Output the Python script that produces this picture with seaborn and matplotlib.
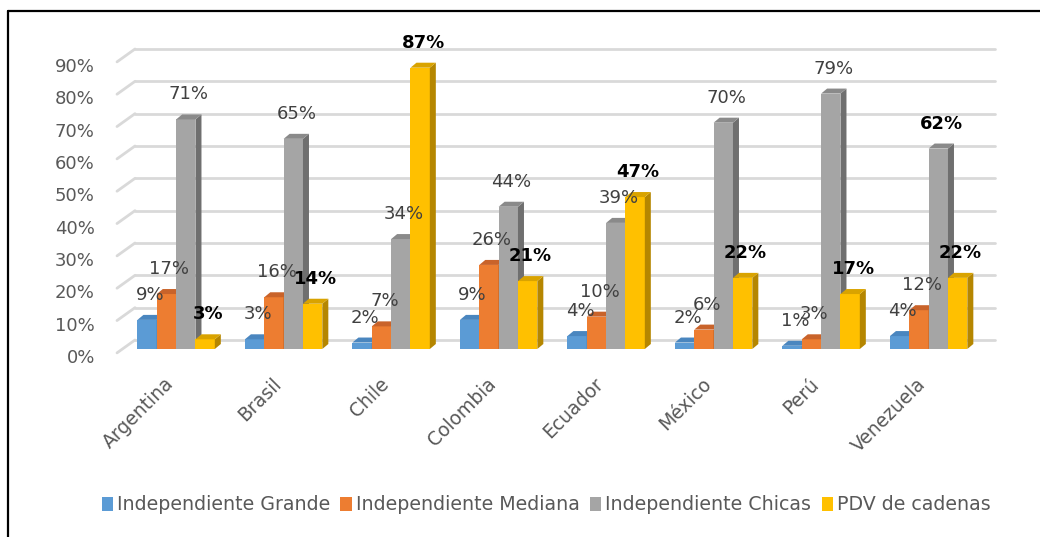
import numpy as np
import pandas as pd
import matplotlib
matplotlib.use("Agg")
import matplotlib.pyplot as plt
import seaborn as sns
from matplotlib.patches import Polygon
from matplotlib.lines import Line2D
from matplotlib.transforms import ScaledTranslation

# ---------------- data ----------------
paises = ["Argentina", "Brasil", "Chile", "Colombia", "Ecuador", "México", "Perú", "Venezuela"]
series = ["Independiente Grande", "Independiente Mediana", "Independiente Chicas", "PDV de cadenas"]
grande = [9, 3, 2, 9, 4, 2, 1, 4]
mediana = [17, 16, 7, 26, 10, 6, 3, 12]
chicas = [71, 65, 34, 44, 39, 70, 79, 62]
pdv = [3, 14, 87, 21, 47, 22, 17, 22]
yticks = [0, 10, 20, 30, 40, 50, 60, 70, 80, 90]

# ---------------- styles ----------------
front_cols = ["#5B9BD5", "#ED7D31", "#A5A5A5", "#FFC000"]
side_cols = ["#41719C", "#AE5A21", "#6F6F6F", "#B58600"]
top_cols = ["#4A86BF", "#C9632A", "#8A8A8A", "#D9A300"]
grid_col = "#D9D9D9"
text_gray = "#595959"

sns.set_theme(style="white")
plt.rcParams["font.family"] = ["DejaVu Sans"]

df = pd.DataFrame({
    "pais": paises * 4,
    "tipo": np.repeat(series, len(paises)),
    "valor": grande + mediana + chicas + pdv,
})

W, H = 1040, 537
fig = plt.figure(figsize=(W / 100, H / 100), dpi=100)
ax_l, ax_r = 117, 977
ax_b, ax_t = 349, 58
ax = fig.add_axes([ax_l / W, 1 - ax_b / H, (ax_r - ax_l) / W, (ax_b - ax_t) / H])

sns.barplot(data=df, x="pais", y="valor", hue="tipo", order=paises, hue_order=series,
            palette=front_cols, saturation=1, width=0.72, ax=ax, linewidth=0)
handles, labels = ax.get_legend_handles_labels()
if ax.get_legend() is not None:
    ax.get_legend().remove()

xmin, xmax = -0.55, 7.45
ymin, ymax = 0, 90
ax.set_xlim(xmin, xmax)
ax.set_ylim(ymin, ymax)
px_x = (xmax - xmin) / (ax_r - ax_l)
px_y = (ymax - ymin) / (ax_b - ax_t)

# depth of bars
dx, dy = 6 * px_x, 5 * px_y
for k, cont in enumerate(ax.containers):
    bold = (k == 3)
    for i, p in enumerate(cont.patches):
        x0, w, h = p.get_x(), p.get_width(), p.get_height()
        p.set_zorder(3 + k)
        side = Polygon([(x0 + w, 0), (x0 + w + dx, dy), (x0 + w + dx, h + dy), (x0 + w, h)],
                       closed=True, facecolor=side_cols[k], edgecolor="none",
                       zorder=3 + k + 0.5, clip_on=False)
        top = Polygon([(x0, h), (x0 + w, h), (x0 + w + dx, h + dy), (x0 + dx, h + dy)],
                      closed=True, facecolor=top_cols[k], edgecolor="none",
                      zorder=3 + k + 0.5, clip_on=False)
        ax.add_patch(side)
        ax.add_patch(top)
        b = bold or (k == 2 and paises[i] == "Venezuela")
        ax.annotate(f"{h:.0f}%", (x0 + w / 2 + dx / 2, h), xytext=(0, 18),
                    textcoords="offset points", ha="center", va="center",
                    fontsize=13, color="black" if b else "#404040",
                    fontweight="bold" if b else "normal", zorder=20,
                    annotation_clip=False)

# back-wall gridlines with perspective diagonals
gdx, gdy = 18 * px_x, 9 * px_y
for v in yticks:
    ax.add_line(Line2D([xmin + gdx, xmax + gdx], [v + gdy, v + gdy], color=grid_col,
                       lw=2, zorder=1, clip_on=False))
    ax.add_line(Line2D([xmin, xmin + gdx], [v - 1.2, v + gdy], color=grid_col,
                       lw=2, zorder=1, clip_on=False))

ax.set_yticks(yticks)
ax.set_yticklabels([f"{v}%" for v in yticks])
ax.set_xlabel("")
ax.set_ylabel("")
for s in ax.spines.values():
    s.set_visible(False)
ax.tick_params(axis="y", length=0, pad=16, labelsize=13, labelcolor=text_gray)
ax.tick_params(axis="x", length=0, pad=6, labelsize=13.5, labelcolor=text_gray)
shift = ScaledTranslation(-0.12, -0.17, fig.dpi_scale_trans)
for t in ax.get_xticklabels():
    t.set_rotation(45)
    t.set_ha("right")
    t.set_rotation_mode("anchor")
    t.set_transform(t.get_transform() + shift)
for t in ax.get_yticklabels():
    t.set_verticalalignment("top")
ax.grid(False)

fig.legend(handles, labels, loc="center", bbox_to_anchor=(546 / W, 1 - 505 / H), ncol=4,
           frameon=False, fontsize=13.7, handlelength=0.6, handleheight=0.75,
           handletextpad=0.2, columnspacing=0.55, labelcolor=text_gray)

# outer frame (left and top edges)
fig.add_artist(Line2D([8 / W, 8 / W], [0, 1 - 11 / H], color="black", lw=1.6,
                      transform=fig.transFigure))
fig.add_artist(Line2D([8 / W, 1], [1 - 11 / H, 1 - 11 / H], color="black", lw=1.6,
                      transform=fig.transFigure))

fig.savefig("out.png", dpi=100)
